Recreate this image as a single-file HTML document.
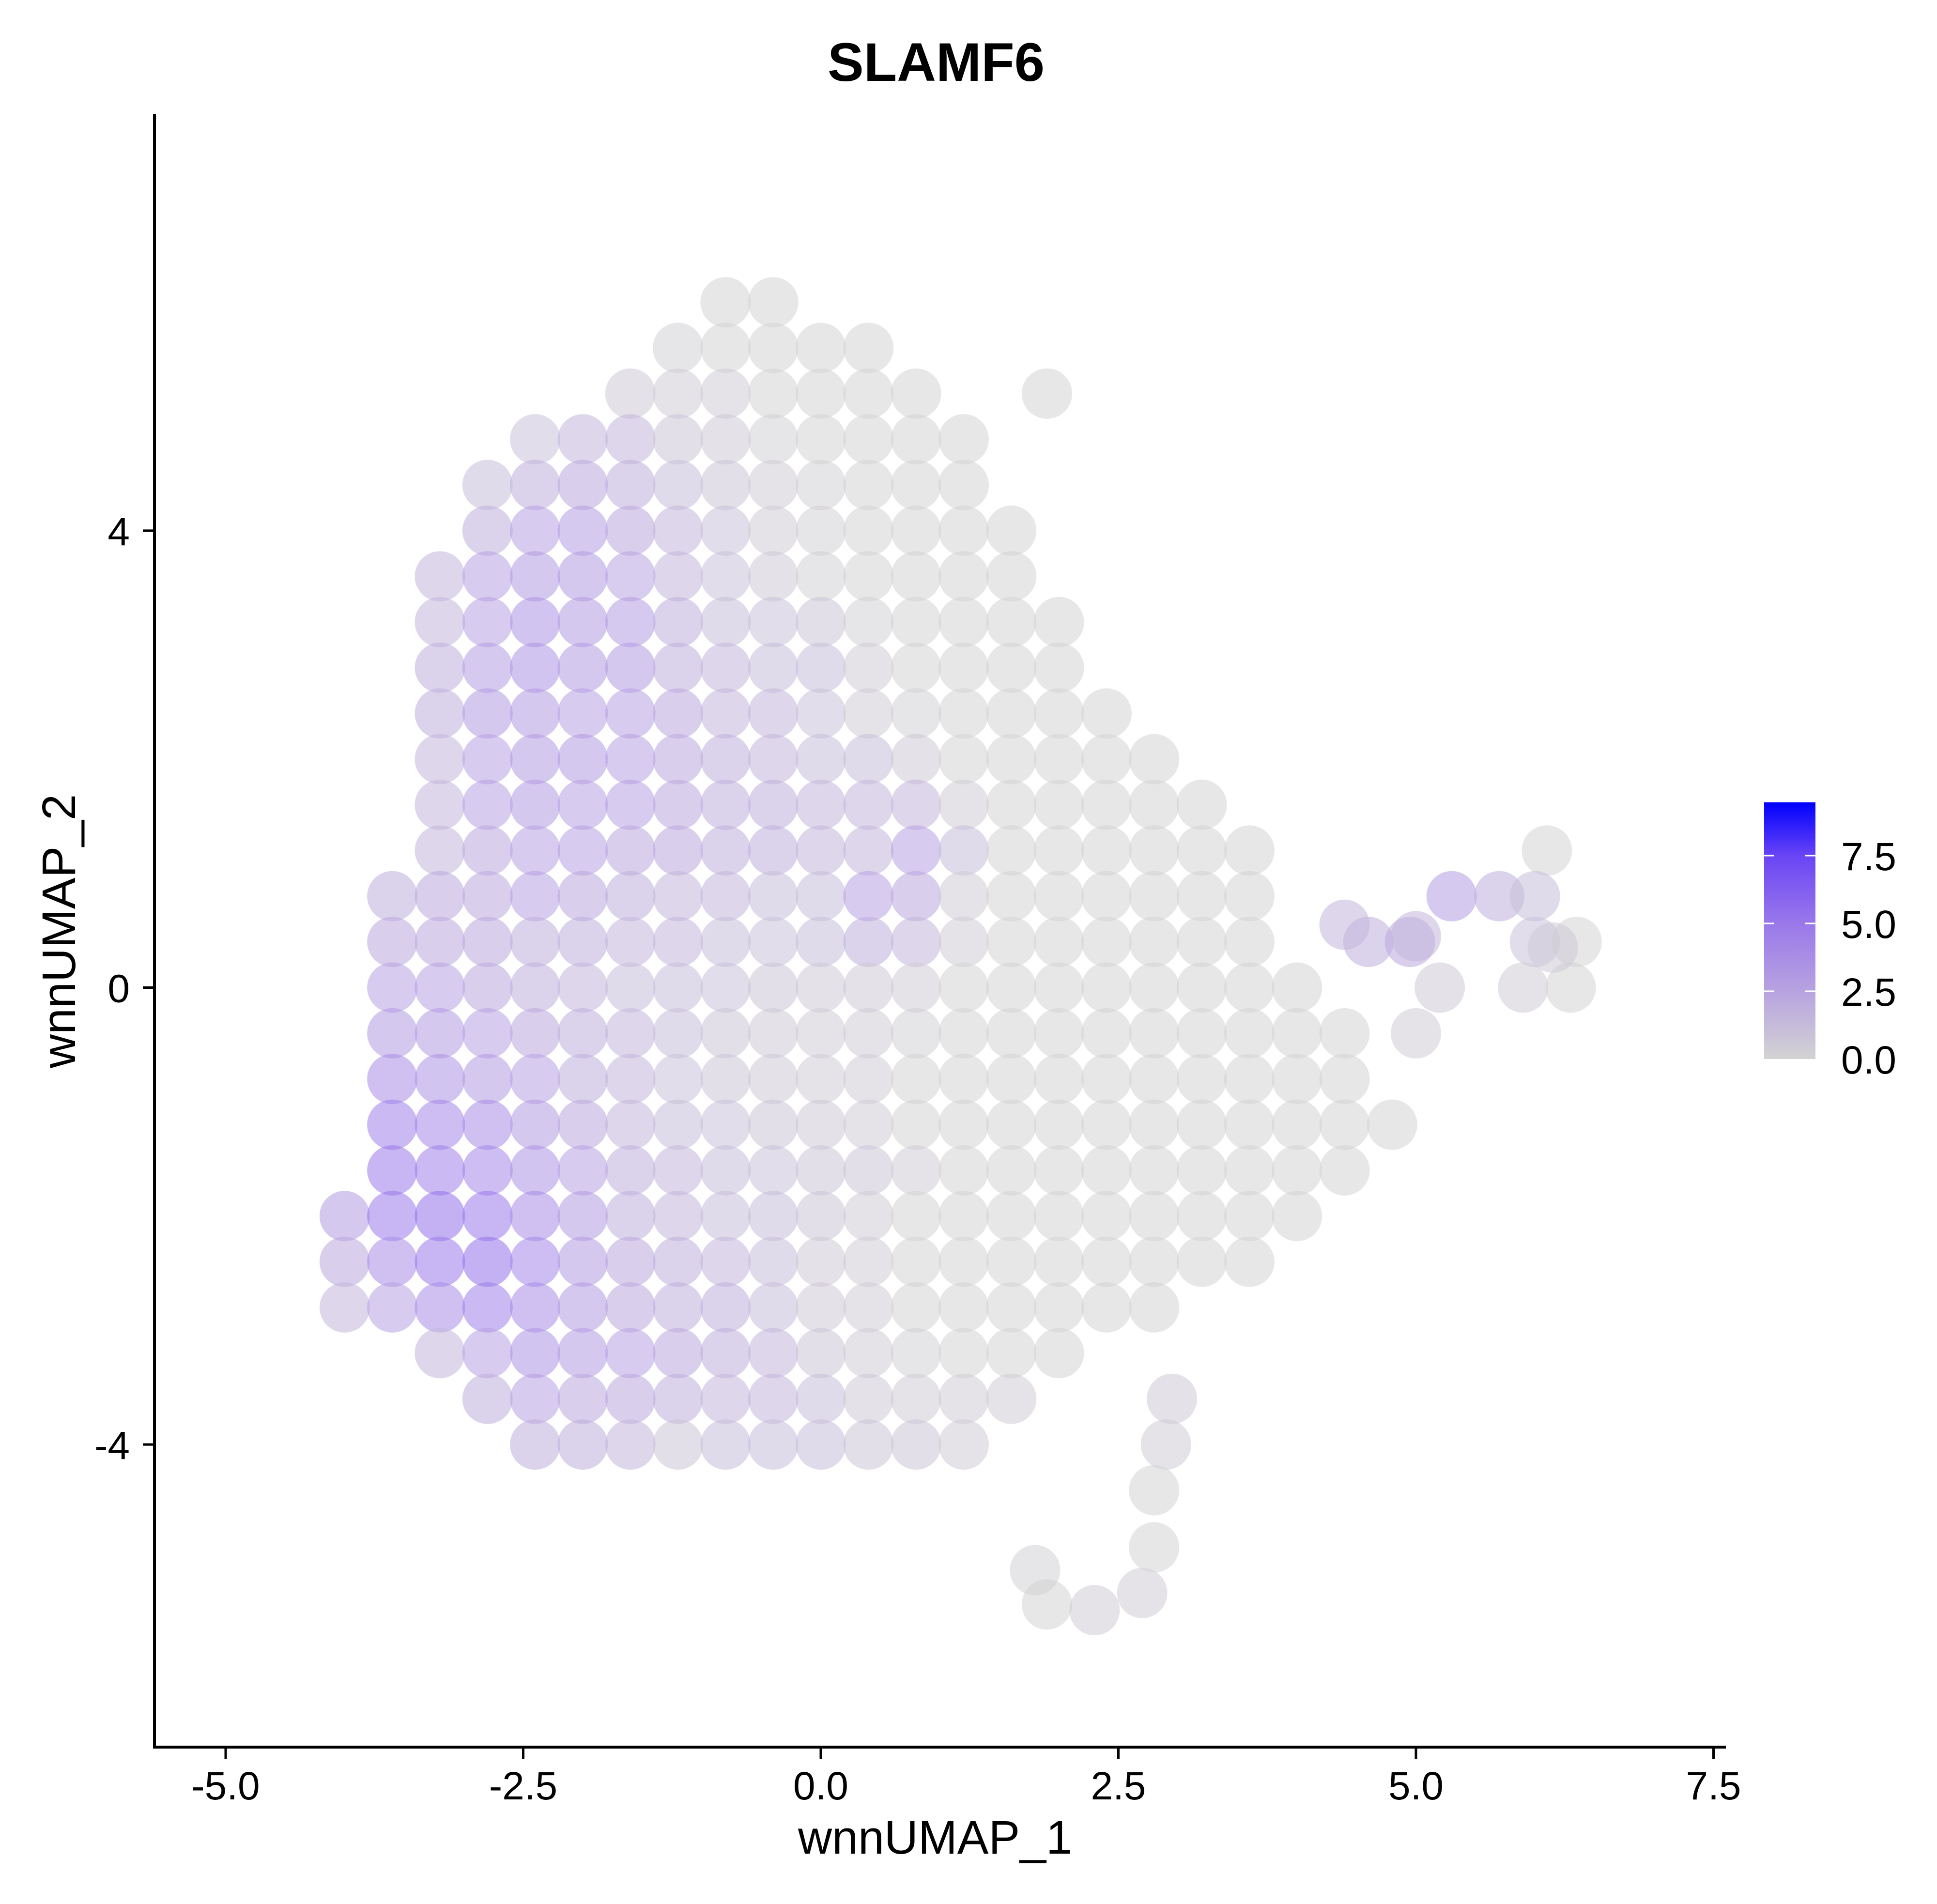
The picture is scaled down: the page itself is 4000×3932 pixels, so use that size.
<!DOCTYPE html>
<html><head><meta charset="utf-8"><style>
html,body{margin:0;padding:0;background:#fff;}
svg{display:block;font-family:"Liberation Sans",Arial,sans-serif;}
</style></head><body>
<svg id="chart" width="4000" height="3932" viewBox="0 0 4000 3932" xmlns="http://www.w3.org/2000/svg">
<defs><linearGradient id="lg" x1="0" y1="1" x2="0" y2="0">
<stop offset="0" stop-color="#d3d3d3"/><stop offset="0.264" stop-color="#b8a3e0"/><stop offset="0.528" stop-color="#9a78ea"/><stop offset="0.79" stop-color="#6a45f5"/><stop offset="1" stop-color="#0000ff"/></linearGradient></defs>
<text x="1933" y="167" font-size="112" font-weight="bold" text-anchor="middle">SLAMF6</text>
<g id="points"></g>
<g id="axes"></g>
<text x="1931" y="3828" font-size="97" text-anchor="middle">wnnUMAP_1</text>
<text transform="translate(155,1923) rotate(-90)" font-size="97" text-anchor="middle">wnnUMAP_2</text>
<g id="legend">
<rect x="3643" y="1657" width="106" height="530" fill="url(#lg)"/>
</g>
</svg>
<script>
const xTicks=[-5.0,-2.5,0.0,2.5,5.0,7.5];
const xTickLabels=["-5.0","-2.5","0.0","2.5","5.0","7.5"];
const yTicks=[-4,0,4];
const yTickLabels=["-4","0","4"];
const legendTicks=[0.0,2.5,5.0,7.5];
const legendTickLabels=["0.0","2.5","5.0","7.5"];
const legendMax=9.46;
const rowYs=[6.0,5.6,5.2,4.8,4.4,4.0,3.6,3.2,2.8,2.4,2.0,1.6,1.2,0.8,0.4,0.0,-0.4,-0.8,-1.2,-1.6,-2.0,-2.4,-2.8,-3.2,-3.6,-4.0];
const rowXs=[
[-0.8,-0.4],
[-1.2,-0.8,-0.4,0,0.4],
[-1.6,-1.2,-0.8,-0.4,0,0.4,0.8,1.9],
[-2.4,-2.0,-1.6,-1.2,-0.8,-0.4,0,0.4,0.8,1.2],
[-2.8,-2.4,-2.0,-1.6,-1.2,-0.8,-0.4,0,0.4,0.8,1.2],
[-2.8,-2.4,-2.0,-1.6,-1.2,-0.8,-0.4,0,0.4,0.8,1.2,1.6],
[-3.2,-2.8,-2.4,-2.0,-1.6,-1.2,-0.8,-0.4,0,0.4,0.8,1.2,1.6],
[-3.2,-2.8,-2.4,-2.0,-1.6,-1.2,-0.8,-0.4,0,0.4,0.8,1.2,1.6,2.0],
[-3.2,-2.8,-2.4,-2.0,-1.6,-1.2,-0.8,-0.4,0,0.4,0.8,1.2,1.6,2.0],
[-3.2,-2.8,-2.4,-2.0,-1.6,-1.2,-0.8,-0.4,0,0.4,0.8,1.2,1.6,2.0,2.4],
[-3.2,-2.8,-2.4,-2.0,-1.6,-1.2,-0.8,-0.4,0,0.4,0.8,1.2,1.6,2.0,2.4,2.8],
[-3.2,-2.8,-2.4,-2.0,-1.6,-1.2,-0.8,-0.4,0,0.4,0.8,1.2,1.6,2.0,2.4,2.8,3.2],
[-3.2,-2.8,-2.4,-2.0,-1.6,-1.2,-0.8,-0.4,0,0.4,0.8,1.2,1.6,2.0,2.4,2.8,3.2,3.6,6.1],
[-3.6,-3.2,-2.8,-2.4,-2.0,-1.6,-1.2,-0.8,-0.4,0,0.4,0.8,1.2,1.6,2.0,2.4,2.8,3.2,3.6,5.3,5.7,6.0],
[-3.6,-3.2,-2.8,-2.4,-2.0,-1.6,-1.2,-0.8,-0.4,0,0.4,0.8,1.2,1.6,2.0,2.4,2.8,3.2,3.6,4.6,4.95,6.0,6.35],
[-3.6,-3.2,-2.8,-2.4,-2.0,-1.6,-1.2,-0.8,-0.4,0,0.4,0.8,1.2,1.6,2.0,2.4,2.8,3.2,3.6,4.0,5.2,5.9,6.3],
[-3.6,-3.2,-2.8,-2.4,-2.0,-1.6,-1.2,-0.8,-0.4,0,0.4,0.8,1.2,1.6,2.0,2.4,2.8,3.2,3.6,4.0,4.4,5.0],
[-3.6,-3.2,-2.8,-2.4,-2.0,-1.6,-1.2,-0.8,-0.4,0,0.4,0.8,1.2,1.6,2.0,2.4,2.8,3.2,3.6,4.0,4.4],
[-3.6,-3.2,-2.8,-2.4,-2.0,-1.6,-1.2,-0.8,-0.4,0,0.4,0.8,1.2,1.6,2.0,2.4,2.8,3.2,3.6,4.0,4.4,4.8],
[-3.6,-3.2,-2.8,-2.4,-2.0,-1.6,-1.2,-0.8,-0.4,0,0.4,0.8,1.2,1.6,2.0,2.4,2.8,3.2,3.6,4.0,4.4],
[-4.0,-3.6,-3.2,-2.8,-2.4,-2.0,-1.6,-1.2,-0.8,-0.4,0,0.4,0.8,1.2,1.6,2.0,2.4,2.8,3.2,3.6,4.0],
[-4.0,-3.6,-3.2,-2.8,-2.4,-2.0,-1.6,-1.2,-0.8,-0.4,0,0.4,0.8,1.2,1.6,2.0,2.4,2.8,3.2,3.6],
[-4.0,-3.6,-3.2,-2.8,-2.4,-2.0,-1.6,-1.2,-0.8,-0.4,0,0.4,0.8,1.2,1.6,2.0,2.4,2.8],
[-3.2,-2.8,-2.4,-2.0,-1.6,-1.2,-0.8,-0.4,0,0.4,0.8,1.2,1.6,2.0],
[-2.8,-2.4,-2.0,-1.6,-1.2,-0.8,-0.4,0,0.4,0.8,1.2,1.6,2.95],
[-2.4,-2.0,-1.6,-1.2,-0.8,-0.4,0,0.4,0.8,1.2,2.9]
];
const rowVs=[
[0,0],
[0.1,0,0,0,0],
[0.3,0.2,0.2,0,0,0,0,0],
[0.5,0.8,0.8,0.4,0.3,0.1,0,0,0,0],
[0.6,1.0,1.2,1.0,0.6,0.4,0.2,0.1,0,0,0],
[1.0,1.4,1.5,1.2,0.8,0.5,0.2,0.1,0,0,0,0],
[0.8,1.4,1.6,1.6,1.3,0.8,0.5,0.3,0.1,0,0,0,0],
[0.8,1.4,1.8,1.6,1.5,1.0,0.6,0.5,0.4,0.1,0,0,0,0],
[1.0,1.5,1.8,1.6,1.6,1.0,0.8,0.6,0.6,0.2,0,0,0,0],
[1.0,1.6,1.6,1.4,1.4,1.2,0.8,0.8,0.5,0.2,0.1,0,0,0,0],
[0.8,1.4,1.6,1.6,1.4,1.2,1.0,0.8,0.6,0.6,0.3,0,0,0,0,0],
[0.8,1.4,1.6,1.4,1.4,1.2,1.0,1.0,0.8,0.8,0.8,0.2,0,0,0,0,0],
[0.8,1.2,1.4,1.4,1.2,1.2,1.0,1.0,0.8,0.8,1.4,0.6,0,0,0,0,0,0,0],
[1.0,1.2,1.2,1.4,1.2,1.0,0.8,0.8,0.6,0.6,1.4,1.2,0.2,0,0,0,0,0,0,1.5,1.0,0.6],
[1.2,1.2,1.2,1.0,1.0,0.8,0.8,0.6,0.5,0.6,1.0,0.8,0.2,0,0,0,0,0,0,1.0,1.2,0.5,0],
[1.4,1.4,1.2,1.0,0.8,0.6,0.6,0.5,0.4,0.3,0.3,0.2,0,0,0,0,0,0,0,0,0.3,0.2,0],
[1.6,1.6,1.4,1.2,1.0,0.8,0.6,0.4,0.3,0.2,0.2,0.1,0,0,0,0,0,0,0,0,0,0.2],
[2.0,1.8,1.6,1.4,1.0,0.8,0.5,0.4,0.3,0.2,0.2,0,0,0,0,0,0,0,0,0,0],
[2.4,2.2,2.0,1.6,1.2,0.8,0.6,0.5,0.4,0.3,0.2,0,0,0,0,0,0,0,0,0,0,0],
[2.6,2.4,2.2,1.8,1.4,1.0,0.8,0.6,0.5,0.4,0.4,0.2,0,0,0,0,0,0,0,0,0],
[1.6,2.6,2.8,2.6,2.0,1.6,1.0,0.8,0.6,0.6,0.4,0.2,0,0,0,0,0,0,0,0,0],
[1.2,2.0,2.6,2.8,2.2,1.6,1.2,1.0,0.8,0.6,0.3,0.2,0,0,0,0,0,0,0,0],
[0.8,1.4,2.0,2.4,2.0,1.6,1.2,1.0,1.0,0.6,0.3,0.2,0,0,0,0,0,0],
[0.8,1.4,1.8,1.6,1.4,1.2,1.0,0.8,0.4,0.2,0.1,0,0,0],
[1.0,1.4,1.2,1.2,1.0,0.8,0.8,0.6,0.3,0.2,0.2,0.2,0.3],
[1.0,1.0,0.8,0.4,0.6,0.6,0.6,0.4,0.4,0.2,0.2]
];
const arcXs=[1.8,1.9,2.3,2.7,2.8,2.8,4.4,5.0,6.15];
const arcYs=[-5.1,-5.4,-5.45,-5.3,-4.9,-4.4,0.55,0.45,0.35];
const arcVs=[0.1,0,0.2,0.2,0,0,0.8,0.8,0.3];

const NS="http://www.w3.org/2000/svg";
function sx(v){return 1695+v*245.8;}
function sy(v){return 2039.5-v*235.9;}
function ly(v){return 2187-v*56;}
const stops=[[0,[211,211,211]],[2.5,[184,163,224]],[5,[154,120,234]],[7.5,[106,69,245]],[9.46,[0,0,255]]];
function col(v){
  for(let i=0;i<stops.length-1;i++){
    const a=stops[i],b=stops[i+1];
    if(v<=b[0]||i===stops.length-2){
      const t=Math.max(0,Math.min(1,(v-a[0])/(b[0]-a[0])));
      const c=a[1].map((q,j)=>Math.round(q+(b[1][j]-q)*t));
      return `rgb(${c[0]},${c[1]},${c[2]})`;
    }
  }
}
function mk(tag,attrs,parent){const e=document.createElementNS(NS,tag);for(const k in attrs)e.setAttribute(k,attrs[k]);parent.appendChild(e);return e;}
const pts=document.getElementById('points');
function dot(x,y,v){
  const c=mk('circle',{cx:sx(x),cy:sy(y),r:52,fill:col(v*1.9),'fill-opacity':0.55},pts);
  
  
}
rowYs.forEach((y,i)=>{rowXs[i].forEach((x,j)=>dot(x,y,rowVs[i][j]));});
arcXs.forEach((x,i)=>dot(x,arcYs[i],arcVs[i]));

const ax=document.getElementById('axes');
const yl=mk('line',{x1:319,y1:235,x2:319,y2:3611,stroke:'#000','stroke-width':6},ax);


const xl=mk('line',{x1:316,y1:3608,x2:3564,y2:3608,stroke:'#000','stroke-width':6},ax);


xTicks.forEach((v,i)=>{
  const t=mk('line',{x1:sx(v),y1:3608,x2:sx(v),y2:3632,stroke:'#000','stroke-width':5},ax);
  
  
  const l=mk('text',{x:sx(v),y:3716,'font-size':82,'text-anchor':'middle',fill:'#000'},ax);
  l.textContent=xTickLabels[i];
  
  
});
yTicks.forEach((v,i)=>{
  const t=mk('line',{x1:295,y1:sy(v),x2:319,y2:sy(v),stroke:'#000','stroke-width':5},ax);
  
  
  const l=mk('text',{x:268,y:sy(v)+30,'font-size':82,'text-anchor':'end',fill:'#000'},ax);
  l.textContent=yTickLabels[i];
  
  
});
const lg=document.getElementById('legend');
legendTicks.forEach((v,i)=>{
  if(v>0){
    const a=mk('line',{x1:3643,y1:ly(v),x2:3664,y2:ly(v),stroke:'#fff','stroke-width':3},lg);
    
    
    const b=mk('line',{x1:3728,y1:ly(v),x2:3749,y2:ly(v),stroke:'#fff','stroke-width':3},lg);
    
    
  }
  const l=mk('text',{x:3802,y:ly(v)+30,'font-size':82,fill:'#000'},lg);
  l.textContent=legendTickLabels[i];
  
  
});
</script>
</body></html>
